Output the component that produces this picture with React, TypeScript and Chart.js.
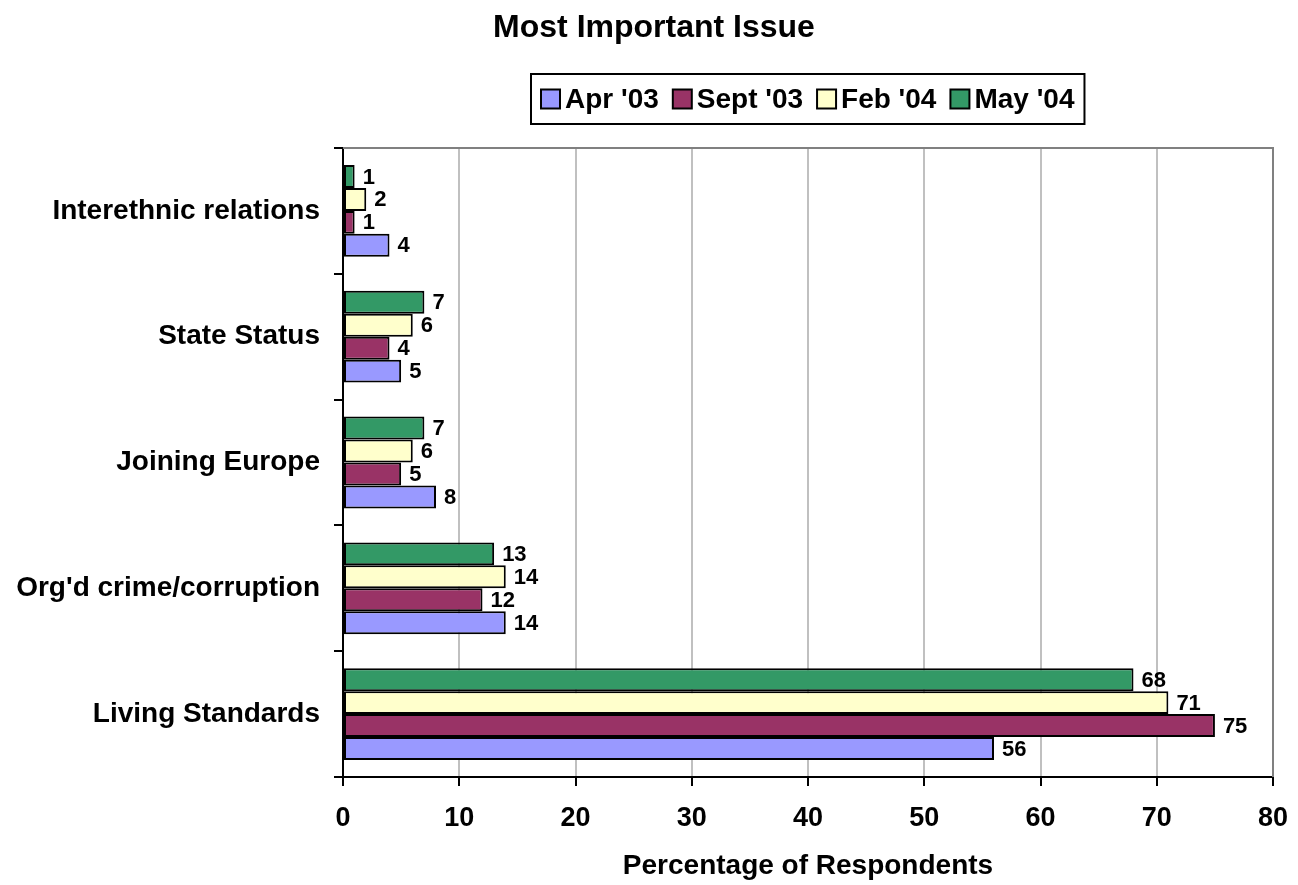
import React, { useEffect, useRef } from "react";
import { Chart, registerables } from "chart.js";

Chart.register(...registerables);

const chartTitle = "Most Important Issue";
const axisTitle = "Percentage of Respondents";
const categories = [
  "Interethnic relations",
  "State Status",
  "Joining Europe",
  "Org'd crime/corruption",
  "Living Standards",
];
const seriesNames = ["Apr '03", "Sept '03", "Feb '04", "May '04"];
const apr03 = [4, 5, 8, 14, 56];
const sept03 = [1, 4, 5, 12, 75];
const feb04 = [2, 6, 6, 14, 71];
const may04 = [1, 7, 7, 13, 68];
const seriesColors = ["#9999FF", "#993366", "#FFFFCC", "#339966"];
const xMin = 0;
const xMax = 80;
const xStep = 10;

const FONT = "'Liberation Sans', Arial, sans-serif";

const decorPlugin = {
  id: "decor",
  beforeDatasetsDraw(chart: any) {
    const ctx = chart.ctx;
    const a = chart.chartArea;
    ctx.save();
    ctx.strokeStyle = "#808080";
    ctx.lineWidth = 2;
    ctx.beginPath();
    ctx.moveTo(a.left, a.top);
    ctx.lineTo(a.right, a.top);
    ctx.lineTo(a.right, a.bottom);
    ctx.stroke();
    ctx.restore();
  },
  afterDraw(chart: any) {
    const ctx = chart.ctx;
    const a = chart.chartArea;
    ctx.save();
    // data labels
    ctx.fillStyle = "#000";
    ctx.font = `bold 22px ${FONT}`;
    ctx.textAlign = "left";
    ctx.textBaseline = "middle";
    chart.data.datasets.forEach((ds: any, i: number) => {
      const meta = chart.getDatasetMeta(i);
      meta.data.forEach((el: any, j: number) => {
        ctx.fillText(String(ds.data[j]), el.x + 8, el.y + 1);
      });
    });
    // chart title
    ctx.font = `bold 32px ${FONT}`;
    ctx.textAlign = "center";
    ctx.fillText(chartTitle, chart.width / 2 + 5, 28);
    // axis title
    ctx.font = `bold 28px ${FONT}`;
    ctx.fillText(axisTitle, (a.left + a.right) / 2, 866);
    // legend
    ctx.font = `bold 28px ${FONT}`;
    const sq = 19;
    const gapSq = 5;
    const gapItem = 14;
    const pad = 10;
    const widths = seriesNames.map((n) => sq + gapSq + ctx.measureText(n).width);
    const content = widths.reduce((s, w) => s + w, 0) + gapItem * (seriesNames.length - 1);
    const boxW = content + pad * 2;
    const cx = (a.left + a.right) / 2;
    const boxX = Math.round(cx - boxW / 2);
    const boxY = 74;
    const boxH = 50;
    ctx.strokeStyle = "#000";
    ctx.lineWidth = 2;
    ctx.strokeRect(boxX, boxY, boxW, boxH);
    let x = boxX + pad;
    const cy = boxY + boxH / 2;
    ctx.textAlign = "left";
    seriesNames.forEach((n, i) => {
      ctx.fillStyle = seriesColors[i];
      ctx.fillRect(x, cy - sq / 2, sq, sq);
      ctx.strokeStyle = "#000";
      ctx.lineWidth = 2;
      ctx.strokeRect(x, cy - sq / 2, sq, sq);
      ctx.fillStyle = "#000";
      ctx.fillText(n, x + sq + gapSq, cy + 1);
      x += widths[i] + gapItem;
    });
    ctx.restore();
  },
};

export default function App() {
  const ref = useRef<HTMLCanvasElement | null>(null);
  useEffect(() => {
    if (!ref.current) return;
    const seriesData = [apr03, sept03, feb04, may04];
    // drawn top-to-bottom within a category: May, Feb, Sept, Apr
    const order = [3, 2, 1, 0];
    const chart = new Chart(ref.current, {
      type: "bar",
      data: {
        labels: categories,
        datasets: order.map((k) => ({
          label: seriesNames[k],
          data: seriesData[k],
          backgroundColor: seriesColors[k],
          borderColor: "#000",
          borderWidth: 2,
          borderSkipped: false,
          categoryPercentage: 0.73,
          barPercentage: 1,
        })),
      },
      options: {
        indexAxis: "y",
        responsive: false,
        animation: false,
        layout: { padding: { left: 0, right: 25, top: 148, bottom: 0 } },
        plugins: {
          legend: { display: false },
          title: { display: false },
          tooltip: { enabled: false },
        },
        scales: {
          x: {
            min: xMin,
            max: xMax,
            ticks: {
              stepSize: xStep,
              color: "#000",
              font: { family: FONT, size: 27, weight: "bold" },
              padding: 16,
            },
            grid: {
              color: (c: any) => (c.tick && c.tick.value === xMax ? "#808080" : "#c0c0c0"),
              lineWidth: 2,
              tickColor: "#000",
              tickLength: 9,
              drawTicks: true,
            },
            border: { display: true, color: "#000", width: 2 },
            afterFit: (s: any) => {
              s.height = 108;
              s.paddingRight = 0;
              s.paddingLeft = 0;
            },
          },
          y: {
            ticks: {
              color: "#000",
              font: { family: FONT, size: 28, weight: "bold" },
              padding: 14,
            },
            grid: {
              offset: true,
              drawOnChartArea: false,
              drawTicks: true,
              tickColor: "#000",
              tickLength: 9,
              lineWidth: 2,
            },
            border: { display: true, color: "#000", width: 2 },
            afterFit: (s: any) => {
              s.width = 343;
              s.paddingTop = 0;
              s.paddingBottom = 0;
            },
          },
        },
      },
      plugins: [decorPlugin],
    } as any);
    return () => chart.destroy();
  }, []);
  return (
    <div style={{ position: "fixed", left: 0, top: 0, width: 1298, height: 885, background: "#fff" }}>
      <canvas ref={ref} width={1298} height={885} style={{ width: 1298, height: 885, display: "block" }} />
    </div>
  );
}
